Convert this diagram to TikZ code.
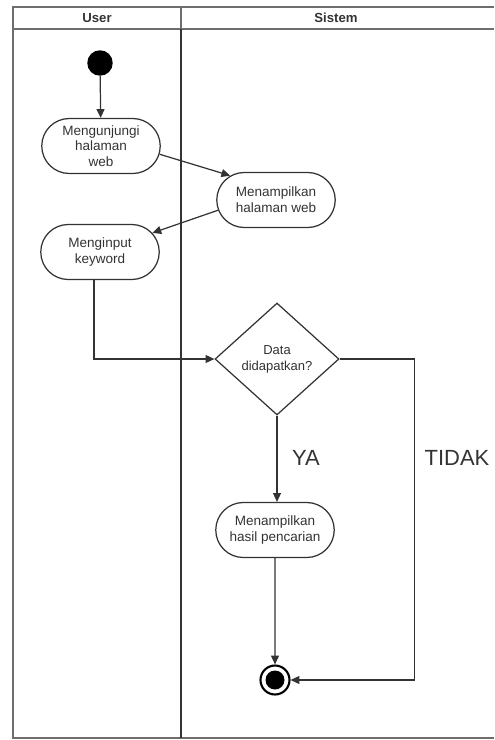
\documentclass[tikz,border=0pt]{standalone}
\usepackage{fontspec}
\setmainfont{Liberation Sans}
\usetikzlibrary{shapes.geometric,shapes.misc,arrows.meta}

\definecolor{ink}{HTML}{333333}
\definecolor{lane}{HTML}{6E6E6E}

\begin{document}
\begin{tikzpicture}[x=0.02cm,y=-0.02cm,
    act/.style={rounded rectangle,draw=ink,line width=0.7pt,text=ink,
      minimum width=2.44cm,minimum height=1.1cm,inner sep=1pt,
      align=center,font=\fontsize{7.7}{9}\selectfont},
    dec/.style={diamond,draw=ink,line width=0.7pt,text=ink,
      minimum width=2.48cm,minimum height=2.24cm,inner sep=0pt,
      align=center,font=\fontsize{7.4}{9}\selectfont},
    arr/.style={draw=ink,line width=0.7pt,-{Triangle[length=5pt,width=4.5pt]}},
    guard/.style={text=ink,font=\fontsize{12.5}{14}\selectfont},
    head/.style={font=\bfseries\fontsize{7.5}{9}\selectfont,text=ink}]
				\useasboundingbox (0,0) rectangle (494,740);
				% swimlanes
				\draw[lane,line width=1pt] (494,7) -- (13,7) -- (13,738) -- (494,738);
				\draw[lane,line width=1pt] (13,29) -- (494,29);
				\draw[lane,line width=0.8pt] (181,7) -- (181,29);
				\draw[black!80,line width=1.2pt] (181,29) -- (181,738);
				\node[head] (user) at (97,18) {User};
				\node[head] (sistem) at (336,18) {Sistem};
				% start and end
				\node[circle,fill=black,minimum size=0.51cm,inner sep=0pt] (start) at (100,63) {};
				\node[circle,draw=black,line width=1.2pt,minimum size=0.58cm,inner sep=0pt] (end) at (275,680) {};
				\fill (end) circle (0.19cm);
				% actions
				\node[act] (visit) at (101,146) {Mengunjungi\\halaman\\web};
				\node[act] (show) at (276,200) {Menampilkan\\halaman web};
				\node[act] (input) at (100,252) {Menginput\\keyword};
				\node[dec] (found) at (277,359) {Data\\didapatkan?};
				\node[act] (result) at (275,530) {Menampilkan\\hasil pencarian};
				% flows
				\draw[arr] (start) -- (visit);
				\draw[arr] (visit.-8) -- (show.152);
				\draw[arr] (show.190) -- (input.20);
				\draw[arr] ([xshift=-0.12cm]input.south) |- (found.west);
				\draw[arr] (found.south) -- (found.south |- result.north);
				\draw[arr] (result) -- (end);
				\draw[arr] (found.east) -- ++(75,0) |- (end.east);
				\node[guard] (ya) at (306,458) {YA};
				\node[guard] (tidak) at (457,458) {TIDAK};
			\end{tikzpicture}
\end{document}
